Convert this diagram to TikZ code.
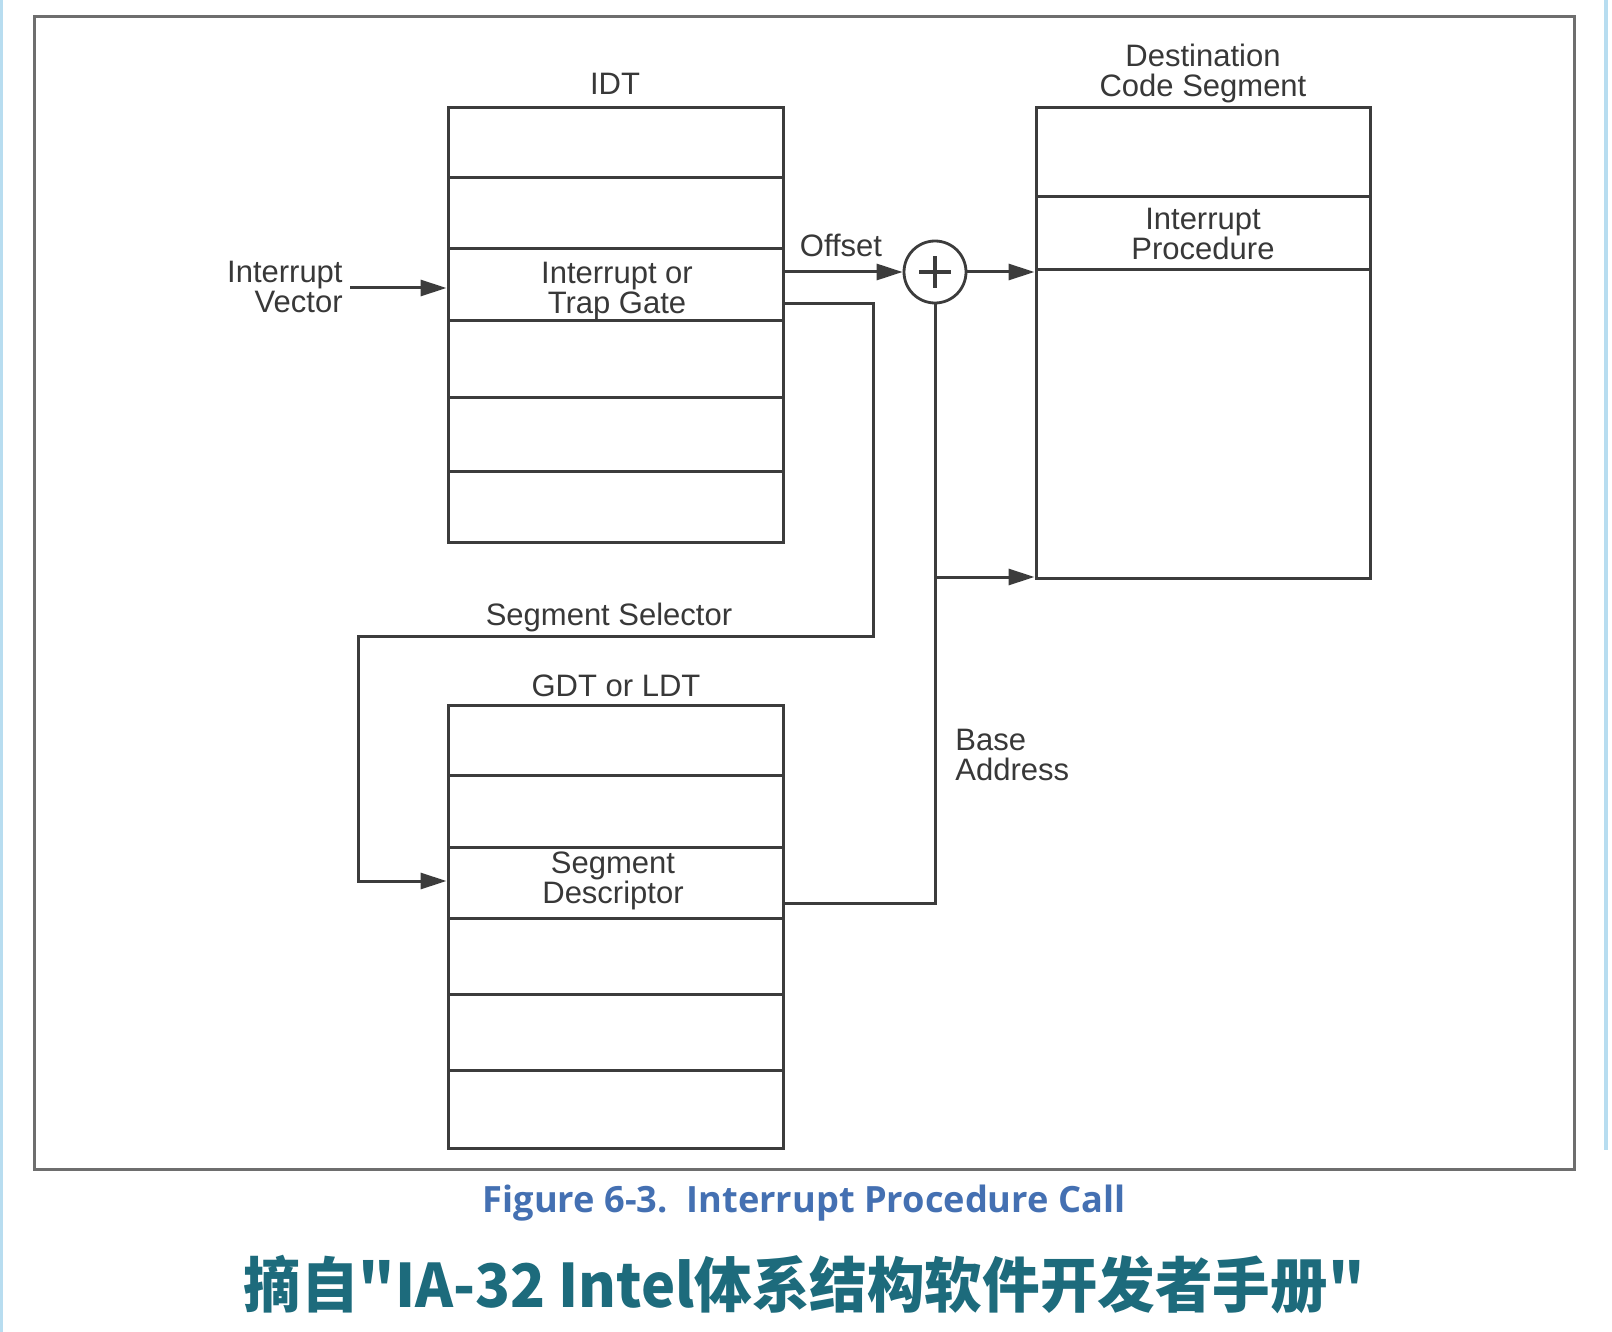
\documentclass[tikz,border=0pt]{standalone}
\usepackage{fontspec}
\setmainfont{Liberation Sans}
\newfontfamily\capfont{Open Sans}
\newfontfamily\cjkfont{Noto Sans CJK SC}
\usetikzlibrary{arrows.meta}
\definecolor{linec}{HTML}{3C3C3C}
\definecolor{txtc}{HTML}{383838}
\definecolor{framec}{HTML}{6E6E6E}
\definecolor{capc}{HTML}{4470B2}
\definecolor{titc}{HTML}{1D6B7C}
\definecolor{edgec}{HTML}{B8DDF0}
\begin{document}
\begin{tikzpicture}[x=0.5pt,y=-0.5pt,
  ln/.style={draw=linec, line width=1.5pt},
  row/.style={ln, rectangle, minimum width=167.5pt, inner sep=0pt},
  arr/.style={ln, -{Triangle[length=13pt,width=8pt]}},
  lbl/.style={font=\fontsize{15.5}{15}\selectfont, text=txtc, inner sep=0pt, align=center},
]
\useasboundingbox (0,0) rectangle (1612,1332);
\fill[white] (0,0) rectangle (1612,1332);
% screenshot edges
\draw[edgec, line width=2pt] (1,0) -- (1,1332);
\draw[edgec, line width=2pt] (1606,0) -- (1606,1150);
% frame
\draw[framec, line width=1.5pt] (34,16.5) rectangle (1574,1169);

% IDT
\node[lbl] (idtl) at (615,84) {IDT};
\node[row, minimum height=35pt]   (idt1) at (615.5,143) {};
\node[row, minimum height=35.5pt] (idt2) at (615.5,213.5) {};
\node[row, minimum height=36pt]   (idt3) at (615.5,285) {};
\node[row, minimum height=38pt]   (idt4) at (615.5,359) {};
\node[row, minimum height=37pt]   (idt5) at (615.5,434) {};
\node[row, minimum height=35.5pt] (idt6) at (615.5,506.5) {};
\node[lbl] (idt3t) at (617,291) {Interrupt or\\Trap Gate};

% Destination code segment
\node[lbl] (dcsl) at (1203,73) {Destination\\Code Segment};
\node[row, minimum width=167pt, minimum height=44.5pt] (dest1) at (1203,152.5) {};
\node[row, minimum width=167pt, minimum height=36.5pt] (dest2) at (1203,233.5) {};
\node[row, minimum width=167pt, minimum height=154pt]  (dest3) at (1203,424) {};
\node[lbl] (dest2t) at (1203,234) {Interrupt\\Procedure};

% GDT
\node[lbl] (gdtl) at (616,686) {GDT or LDT};
\node[row, minimum height=35pt]   (gdt1) at (615.5,740) {};
\node[row, minimum height=36pt]   (gdt2) at (615.5,811) {};
\node[row, minimum height=35.5pt] (gdt3) at (615.5,882.5) {};
\node[row, minimum height=38pt]   (gdt4) at (615.5,956) {};
\node[row, minimum height=38pt]   (gdt5) at (615.5,1032) {};
\node[row, minimum height=39pt]   (gdt6) at (615.5,1109) {};
\node[lbl] (gdt3t) at (613,881) {Segment\\Descriptor};

% adder
\node[circle, draw=linec, line width=1.4pt, minimum size=31pt, inner sep=0pt] (plus) at (935,272) {};
\draw[linec, line width=2.4pt] ([xshift=-8pt]plus.center) -- ([xshift=8pt]plus.center);
\draw[linec, line width=2.4pt] ([yshift=-8pt]plus.center) -- ([yshift=8pt]plus.center);

% labels
\node[lbl, align=right, anchor=east] (iv) at (343,287) {Interrupt\\Vector};
\node[lbl] (offl) at (841,245) {Offset};
\node[lbl] (ssl) at (609,617) {Segment Selector};
\node[lbl, align=left, anchor=west] (bal) at (955,755) {Base\\Address};

% connectors
\coordinate (ivs) at (350,288);
\draw[arr] (ivs) -- (ivs -| idt3.west);
\draw[arr] (plus.west -| idt3.east) -- (plus.west);
\draw[arr] (plus.east) -- (plus.east -| dest3.west);
\coordinate (ss0) at (783,304);
\coordinate (ss1) at (873,636);
\coordinate (ss2) at (358,881);
\draw[arr] (ss0) -| (ss1) -| (ss2) -- (ss2 -| gdt3.west);
\coordinate (ba0) at (783,903);
\coordinate (ba1) at (935,577);
\draw[ln] (ba0) -| (plus.south);
\draw[arr] (ba1) -- (ba1 -| dest3.west);

% captions
\node[inner sep=0pt, text=capc, font=\capfont\bfseries\fontsize{18.1}{18}\selectfont] (cap) at (804,1203) {Figure 6-3.\ \ Interrupt Procedure Call};
\node[inner sep=0pt, text=titc, font=\cjkfont\bfseries\fontsize{30}{30}\selectfont] (tit) at (804,1285) {\scalebox{0.96}[1]{摘自"IA-32 Intel体系结构软件开发者手册"}};
\end{tikzpicture}
\end{document}
